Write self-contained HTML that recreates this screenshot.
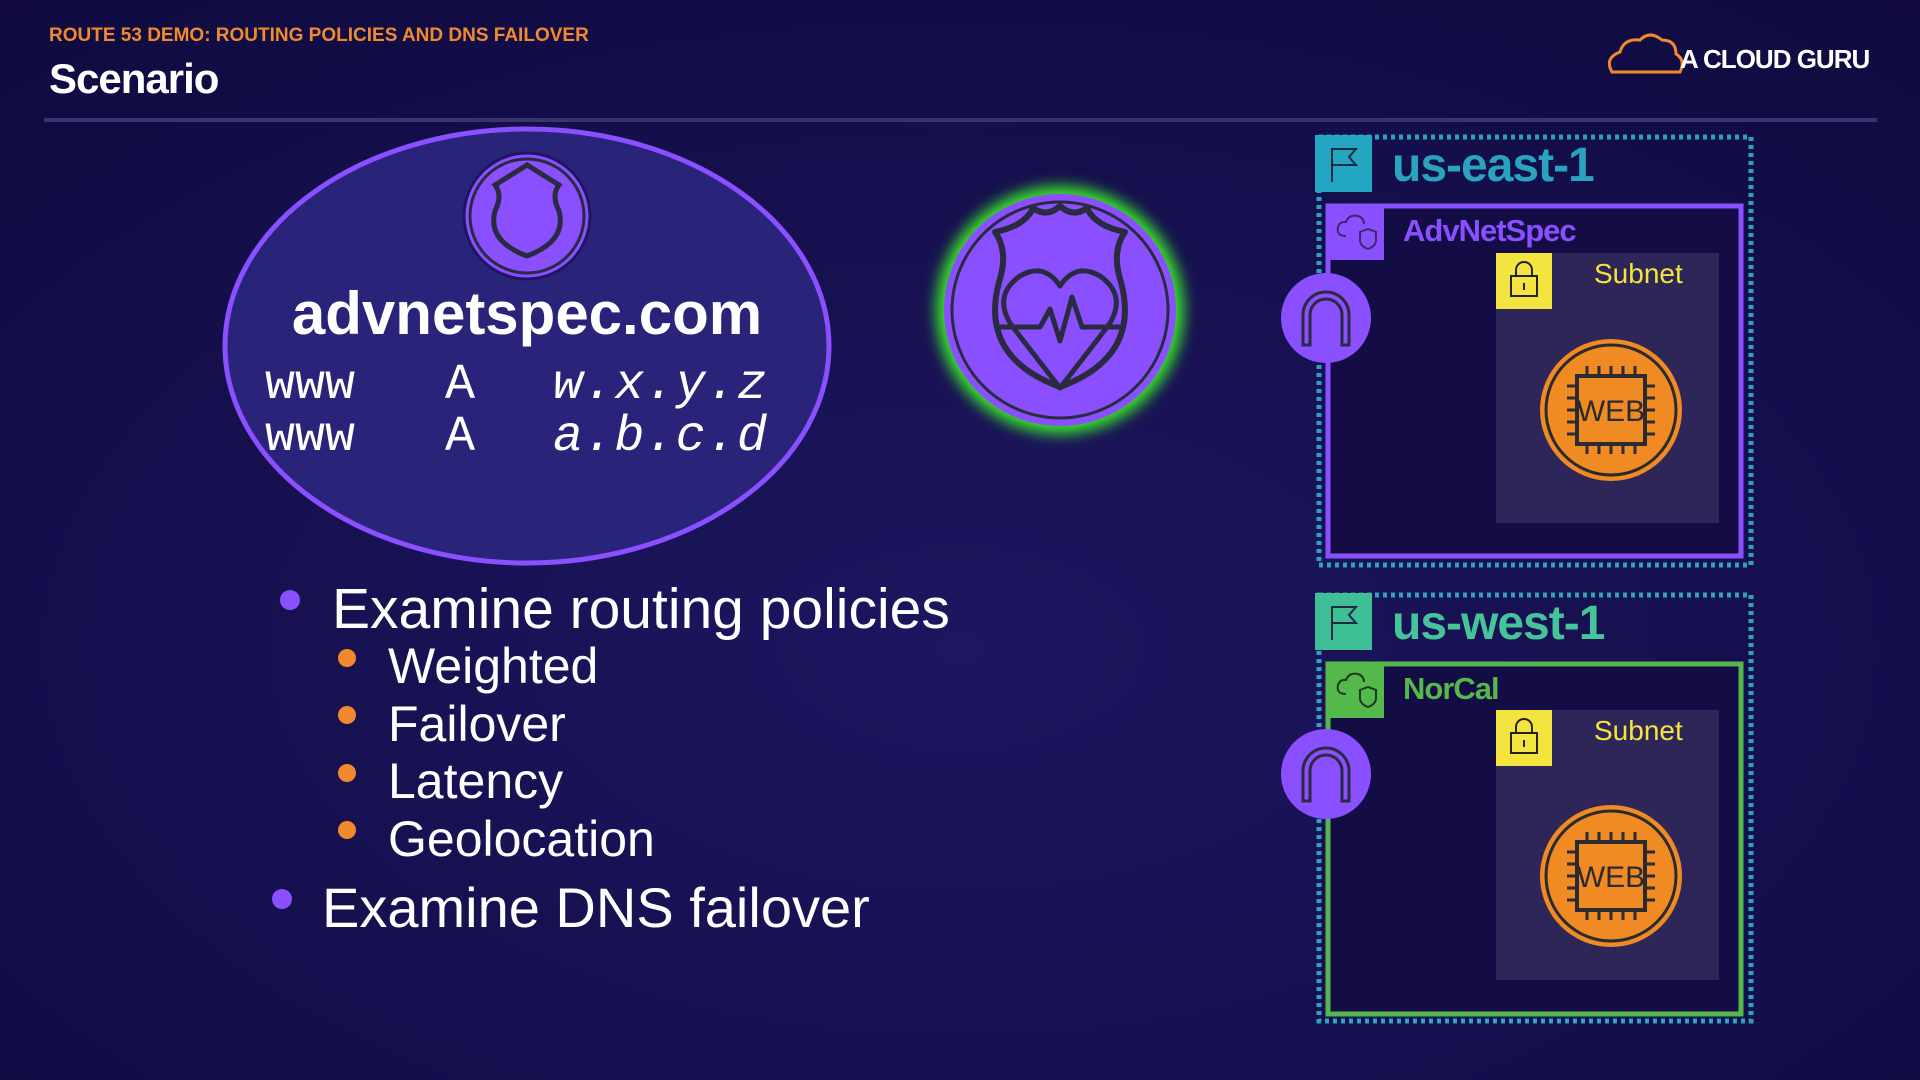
<!DOCTYPE html>
<html><head><meta charset="utf-8"><style>
html,body{margin:0;padding:0;width:1920px;height:1080px;overflow:hidden;background:#140d45;}
svg{display:block}
</style></head><body>
<svg width="1920" height="1080" viewBox="0 0 1920 1080" xmlns="http://www.w3.org/2000/svg" font-family="Liberation Sans, sans-serif">
<defs>
<radialGradient id="bg" cx="50%" cy="60%" r="80%">
<stop offset="0" stop-color="#1d1660"/><stop offset="1" stop-color="#0f0a3e"/>
</radialGradient>
<filter id="glow" x="-30%" y="-30%" width="160%" height="160%"><feGaussianBlur stdDeviation="7"/></filter>
</defs>
<rect width="1920" height="1080" fill="url(#bg)"/>
<!-- header -->
<text x="49" y="41" font-size="19" font-weight="bold" fill="#f08a2c">ROUTE 53 DEMO: ROUTING POLICIES AND DNS FAILOVER</text>
<text x="49" y="93" font-size="42" font-weight="bold" fill="#ffffff" letter-spacing="-1">Scenario</text>
<rect x="44" y="118" width="1833" height="4" fill="#3a3470"/>
<g fill="none" stroke="#f08a2c" stroke-width="3">
<path d="M1612 72 q-8 -14 8 -20 q4 -14 20 -12 q10 -10 22 0 q14 0 14 14 q10 6 4 18 z"/>
</g>
<text x="1680" y="68" font-size="26" font-weight="bold" fill="#ffffff" letter-spacing="-1">A CLOUD GURU</text>

<!-- ellipse -->
<ellipse cx="527" cy="346" rx="302" ry="217" fill="#2a237a" stroke="#8a4fff" stroke-width="5"/>
<circle cx="527" cy="216" r="63" fill="#8a4fff" stroke="#1d1660" stroke-width="3"/>
<circle cx="527" cy="216" r="57" fill="none" stroke="#2a2a40" stroke-width="3"/>
<path d="M495 185 q16 -10 32 -20 q16 10 32 20 q-8 10 0 26 q8 30 -32 45 q-40 -15 -32 -45 q8 -16 0 -26z" fill="none" stroke="#2a2a40" stroke-width="5"/>
<text x="527" y="334" font-size="60" font-weight="bold" fill="#ffffff" text-anchor="middle">advnetspec.com</text>
<g style="font-family:'Liberation Mono',monospace" font-size="50" fill="#ffffff">
<text x="265" y="398">www</text><text x="445" y="398">A</text><text x="553" y="398" font-style="italic" textLength="214">w.x.y.z</text>
<text x="265" y="450">www</text><text x="445" y="450">A</text><text x="553" y="450" font-style="italic" textLength="214">a.b.c.d</text>
</g>

<!-- health check -->
<circle cx="1060" cy="310" r="124" fill="#39e02a" filter="url(#glow)"/>
<circle cx="1060" cy="310" r="116" fill="#8a4fff"/>
<circle cx="1060" cy="310" r="108" fill="none" stroke="#2a2a40" stroke-width="3"/>
<g fill="none" stroke="#2a2a40" stroke-width="6" stroke-linejoin="round">
<path d="M995 232 q30 -6 38 -24 q14 10 27 -2 q13 12 27 2 q8 18 38 24 q-14 20 -4 50 q20 75 -61 105 q-81 -30 -61 -105 q10 -30 -4 -50z"/>
<path d="M1012 326 q-20 -30 8 -50 q24 -14 40 10 q16 -24 40 -10 q28 20 8 50 l-48 62 z" stroke-width="5"/>
<path d="M998 327 h42 l10 -18 l10 32 l12 -44 l10 30 h42" stroke-width="5"/>
</g>

<!-- bullets -->
<g fill="#ffffff">
<circle cx="290" cy="600" r="10" fill="#8a4fff"/>
<text x="332" y="628" font-size="57">Examine routing policies</text>
<circle cx="347" cy="658" r="9" fill="#f08a2c"/><text x="388" y="683" font-size="50">Weighted</text>
<circle cx="347" cy="715" r="9" fill="#f08a2c"/><text x="388" y="741" font-size="50">Failover</text>
<circle cx="347" cy="773" r="9" fill="#f08a2c"/><text x="388" y="798" font-size="50">Latency</text>
<circle cx="347" cy="830" r="9" fill="#f08a2c"/><text x="388" y="856" font-size="50">Geolocation</text>
<circle cx="282" cy="899" r="10" fill="#8a4fff"/>
<text x="322" y="927" font-size="56">Examine DNS failover</text>
</g>

<!-- us-east-1 -->
<rect x="1319" y="137" width="432" height="428" fill="none" stroke="#2aa3c0" stroke-width="5" stroke-dasharray="4 4"/>
<rect x="1315" y="135" width="57" height="57" fill="#22a6c2"/>
<path d="M1332 182 v-34 M1332 149 h24 l-7 8 l7 8 h-24" fill="none" stroke="#1d2a40" stroke-width="2"/>
<text x="1392" y="181" font-size="48" font-weight="bold" fill="#2aa3c0" letter-spacing="-1">us-east-1</text>
<rect x="1328" y="206" width="413" height="350" fill="#130c45" stroke="#8a4fff" stroke-width="5"/>
<rect x="1326" y="204" width="58" height="56" fill="#8a4fff"/>
<path d="M1346 236 q-10 0 -8 -9 q2 -6 8 -5 q3 -8 12 -6 q6 2 6 8" fill="none" stroke="#3a2a70" stroke-width="2"/>
<path d="M1360 232 l8 -3 l8 3 v8 q0 6 -8 9 q-8 -3 -8 -9z" fill="none" stroke="#3a2a70" stroke-width="2"/>
<text x="1403" y="241" font-size="31" font-weight="bold" fill="#8a4fff" letter-spacing="-1">AdvNetSpec</text>
<rect x="1496" y="253" width="223" height="270" fill="#2e2558"/>
<rect x="1496" y="253" width="56" height="56" fill="#f4e53e"/>
<path d="M1516 276 v-6 a8 8 0 0 1 16 0 v6 M1511 276 h26 v20 h-26z M1524 283 v7" fill="none" stroke="#222" stroke-width="2"/>
<text x="1594" y="283" font-size="28" fill="#f4e53e">Subnet</text>
<g transform="translate(1611,410)">
<circle r="71" fill="#f08a22"/><circle r="65" fill="none" stroke="#2a2a30" stroke-width="3"/>
<rect x="-34" y="-34" width="68" height="68" fill="none" stroke="#2a2a30" stroke-width="4"/>
<path d="M-24 -34v-10M-12 -34v-10M0 -34v-10M12 -34v-10M24 -34v-10M-24 34v10M-12 34v10M0 34v10M12 34v10M24 34v10M-34 -24h-10M-34 -12h-10M-34 0h-10M-34 12h-10M-34 24h-10M34 -24h10M34 -12h10M34 0h10M34 12h10M34 24h10" stroke="#2a2a30" stroke-width="3"/>
<text y="11" font-size="30" text-anchor="middle" fill="#2a2a30">WEB</text>
</g>
<circle cx="1326" cy="318" r="45" fill="#8a4fff"/>
<path d="M1303 345 v-30 a23 23 0 0 1 46 0 v30 h-7 v-30 a16 16 0 0 0 -32 0 v30z" fill="none" stroke="#2a2a40" stroke-width="3"/>

<!-- us-west-1 -->
<rect x="1319" y="595" width="432" height="426" fill="none" stroke="#2aa3c0" stroke-width="5" stroke-dasharray="4 4"/>
<rect x="1315" y="593" width="57" height="57" fill="#3fbf95"/>
<path d="M1332 640 v-34 M1332 607 h24 l-7 8 l7 8 h-24" fill="none" stroke="#1d2a40" stroke-width="2"/>
<text x="1392" y="639" font-size="48" font-weight="bold" fill="#45c49a" letter-spacing="-1">us-west-1</text>
<rect x="1328" y="664" width="413" height="350" fill="#130c45" stroke="#55b84a" stroke-width="5"/>
<rect x="1326" y="662" width="58" height="56" fill="#55b84a"/>
<path d="M1346 694 q-10 0 -8 -9 q2 -6 8 -5 q3 -8 12 -6 q6 2 6 8" fill="none" stroke="#1d3a20" stroke-width="2"/>
<path d="M1360 690 l8 -3 l8 3 v8 q0 6 -8 9 q-8 -3 -8 -9z" fill="none" stroke="#1d3a20" stroke-width="2"/>
<text x="1403" y="699" font-size="31" font-weight="bold" fill="#55b84a" letter-spacing="-1">NorCal</text>
<rect x="1496" y="710" width="223" height="270" fill="#2e2558"/>
<rect x="1496" y="710" width="56" height="56" fill="#f4e53e"/>
<path d="M1516 733 v-6 a8 8 0 0 1 16 0 v6 M1511 733 h26 v20 h-26z M1524 740 v7" fill="none" stroke="#222" stroke-width="2"/>
<text x="1594" y="740" font-size="28" fill="#f4e53e">Subnet</text>
<g transform="translate(1611,876)">
<circle r="71" fill="#f08a22"/><circle r="65" fill="none" stroke="#2a2a30" stroke-width="3"/>
<rect x="-34" y="-34" width="68" height="68" fill="none" stroke="#2a2a30" stroke-width="4"/>
<path d="M-24 -34v-10M-12 -34v-10M0 -34v-10M12 -34v-10M24 -34v-10M-24 34v10M-12 34v10M0 34v10M12 34v10M24 34v10M-34 -24h-10M-34 -12h-10M-34 0h-10M-34 12h-10M-34 24h-10M34 -24h10M34 -12h10M34 0h10M34 12h10M34 24h10" stroke="#2a2a30" stroke-width="3"/>
<text y="11" font-size="30" text-anchor="middle" fill="#2a2a30">WEB</text>
</g>
<circle cx="1326" cy="774" r="45" fill="#8a4fff"/>
<path d="M1303 801 v-30 a23 23 0 0 1 46 0 v30 h-7 v-30 a16 16 0 0 0 -32 0 v30z" fill="none" stroke="#2a2a40" stroke-width="3"/>
</svg>
</body></html>
